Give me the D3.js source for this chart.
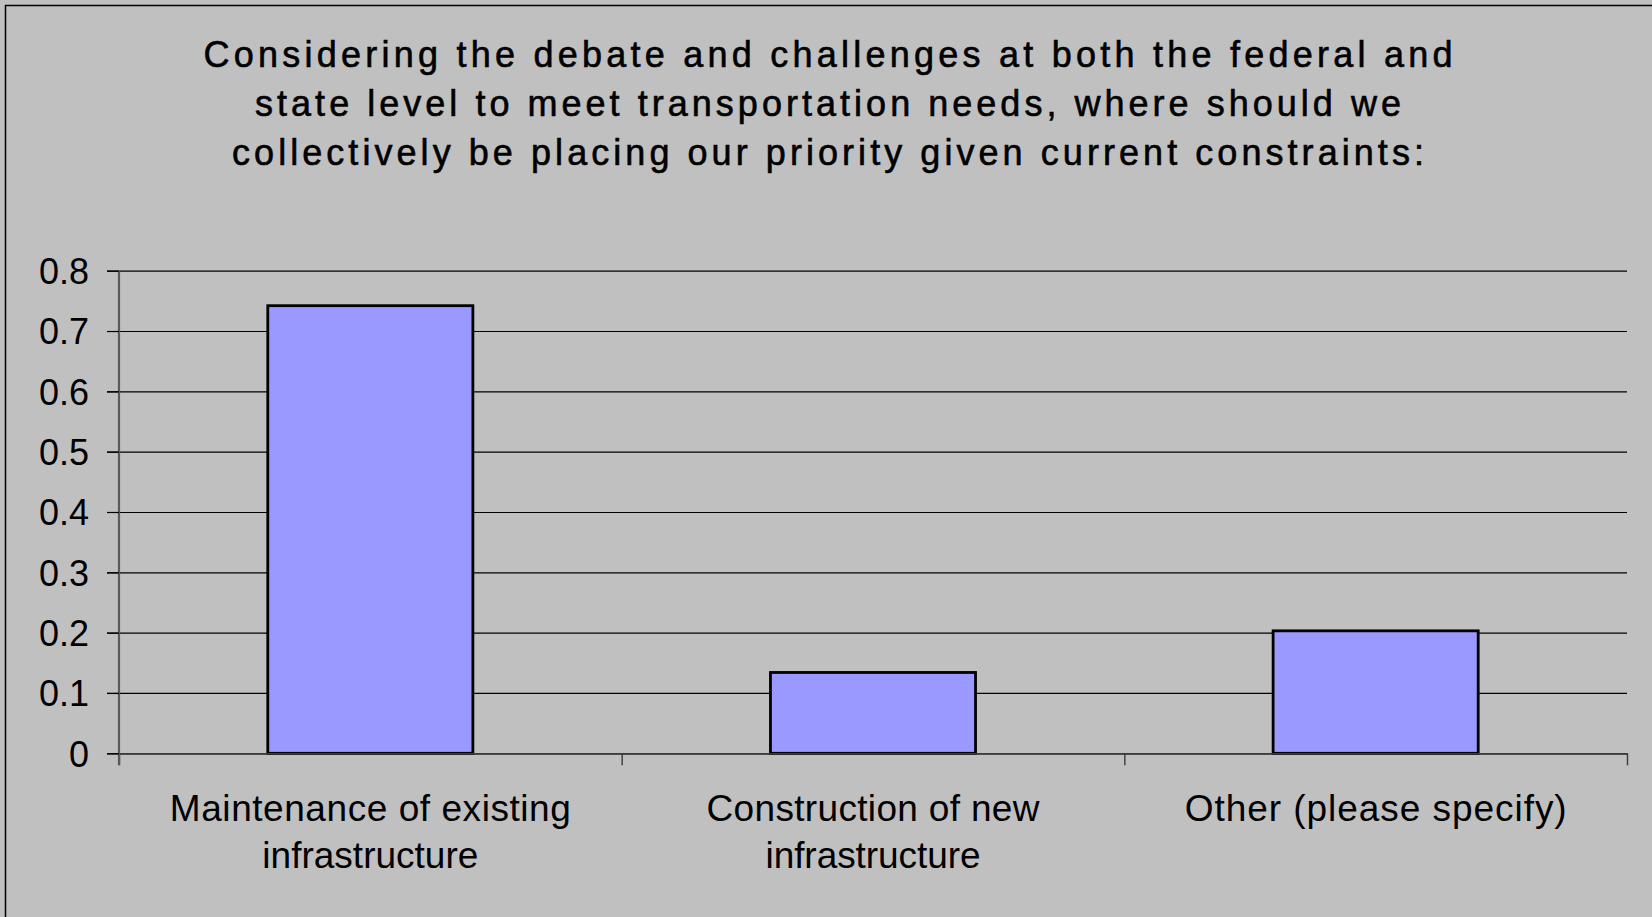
<!DOCTYPE html>
<html>
<head>
<meta charset="utf-8">
<script src="https://cdn.jsdelivr.net/npm/d3@7"></script>
<style>
  html, body { margin: 0; padding: 0; background: #C0C0C0; }
  svg { display: block; }
  text { font-family: "Liberation Sans", Arial, sans-serif; fill: #000; }
</style>
</head>
<body>
<svg id="chart" width="1652" height="917"></svg>
<script>
// ---- data ----
const titleLines = [
  "Considering the debate and challenges at both the federal and",
  "state level to meet transportation needs, where should we",
  "collectively be placing our priority given current constraints:"
];
const categories = [
  "Maintenance of existing infrastructure",
  "Construction of new infrastructure",
  "Other (please specify)"
];
const categoryLines = [
  ["Maintenance of existing", "infrastructure"],
  ["Construction of new", "infrastructure"],
  ["Other (please specify)"]
];
const values = [0.742, 0.134, 0.203];
const yTicks = [0, 0.1, 0.2, 0.3, 0.4, 0.5, 0.6, 0.7, 0.8];
const yTickLabels = ["0", "0.1", "0.2", "0.3", "0.4", "0.5", "0.6", "0.7", "0.8"];

// ---- layout ----
const W = 1652, H = 917;
const plot = { left: 119, right: 1627, top: 270.7, bottom: 753.3 };
const titleWidths = [1249, 1146, 1192];
const labelWidths = [[401, 216], [333, 215], [382]];

const svg = d3.select("#chart");
svg.append("rect").attr("width", W).attr("height", H).attr("fill", "#C0C0C0");

// outer border (left & top visible)
svg.append("line").attr("x1", 5.5).attr("x2", 5.5).attr("y1", 5).attr("y2", H)
  .attr("stroke", "#000").attr("stroke-width", 1.5);
svg.append("line").attr("x1", 5).attr("x2", W).attr("y1", 5.5).attr("y2", 5.5)
  .attr("stroke", "#000").attr("stroke-width", 1.5);

// title
const title = svg.append("g");
titleLines.forEach((t, i) => {
  title.append("text")
    .attr("x", 828)
    .attr("y", 66.5 + i * 49.3)
    .attr("text-anchor", "middle")
    .attr("font-size", 36)
    .attr("stroke", "#000")
    .attr("stroke-width", 0.6)
    .attr("textLength", titleWidths[i])
    .attr("lengthAdjust", "spacing")
    .text(t);
});

// scales
const x = d3.scaleBand().domain(categories).range([plot.left, plot.right])
  .paddingInner(0.592).paddingOuter(0.296);
const y = d3.scaleLinear().domain([0, 0.8]).range([plot.bottom, plot.top]);
const xEdges = d3.scaleLinear().domain([0, categories.length]).range([plot.left, plot.right]);

// gridlines (extend left through tick area)
const grid = svg.append("g")
  .attr("transform", `translate(${plot.left - 12},0)`)
  .call(d3.axisRight(y).tickValues(yTicks).tickSize(plot.right - plot.left + 12).tickFormat(""));
grid.select(".domain").remove();
grid.selectAll(".tick line").attr("stroke", "#000").attr("stroke-width", 1.2);

// bars
svg.append("g").selectAll("rect")
  .data(values)
  .join("rect")
  .attr("x", (d, i) => x(categories[i]))
  .attr("y", d => y(d))
  .attr("width", x.bandwidth())
  .attr("height", d => y(0) - y(d))
  .attr("fill", "#9999FF")
  .attr("stroke", "#000")
  .attr("stroke-width", 2.8);

// x axis (category boundary ticks)
const xAxis = svg.append("g")
  .attr("transform", `translate(0,${plot.bottom})`)
  .call(d3.axisBottom(xEdges).tickValues(d3.range(categories.length + 1)).tickSize(12).tickSizeOuter(0).tickFormat(""));
xAxis.select(".domain").attr("stroke", "#3a3a3a").attr("stroke-width", 1.6);
xAxis.selectAll(".tick line").attr("stroke", "#3a3a3a").attr("stroke-width", 1.4);

// y axis
const yAxis = svg.append("g")
  .attr("transform", `translate(${plot.left},0)`)
  .call(d3.axisLeft(y).tickValues(yTicks).tickSize(12).tickSizeOuter(0).tickPadding(18)
    .tickFormat((d, i) => yTickLabels[i]));
yAxis.select(".domain").attr("stroke", "#5a5a5a").attr("stroke-width", 2.2)
  .attr("d", `M0,${plot.top}V${plot.bottom + 12}`);
yAxis.selectAll(".tick line").attr("stroke", "#000").attr("stroke-width", 1.2);
yAxis.selectAll(".tick text")
  .attr("font-size", 36)
  .attr("font-family", "'Liberation Sans', Arial, sans-serif")
  .attr("fill", "#000")
  .attr("dy", "0.36em");

// category labels
const labels = svg.append("g");
categories.forEach((c, i) => {
  const cx = x(c) + x.bandwidth() / 2;
  categoryLines[i].forEach((line, j) => {
    labels.append("text")
      .attr("x", cx)
      .attr("y", 821 + j * 46.5)
      .attr("text-anchor", "middle")
      .attr("font-size", 37)
      .attr("textLength", labelWidths[i][j])
      .attr("lengthAdjust", "spacing")
      .text(line);
  });
});
</script>
</body>
</html>
